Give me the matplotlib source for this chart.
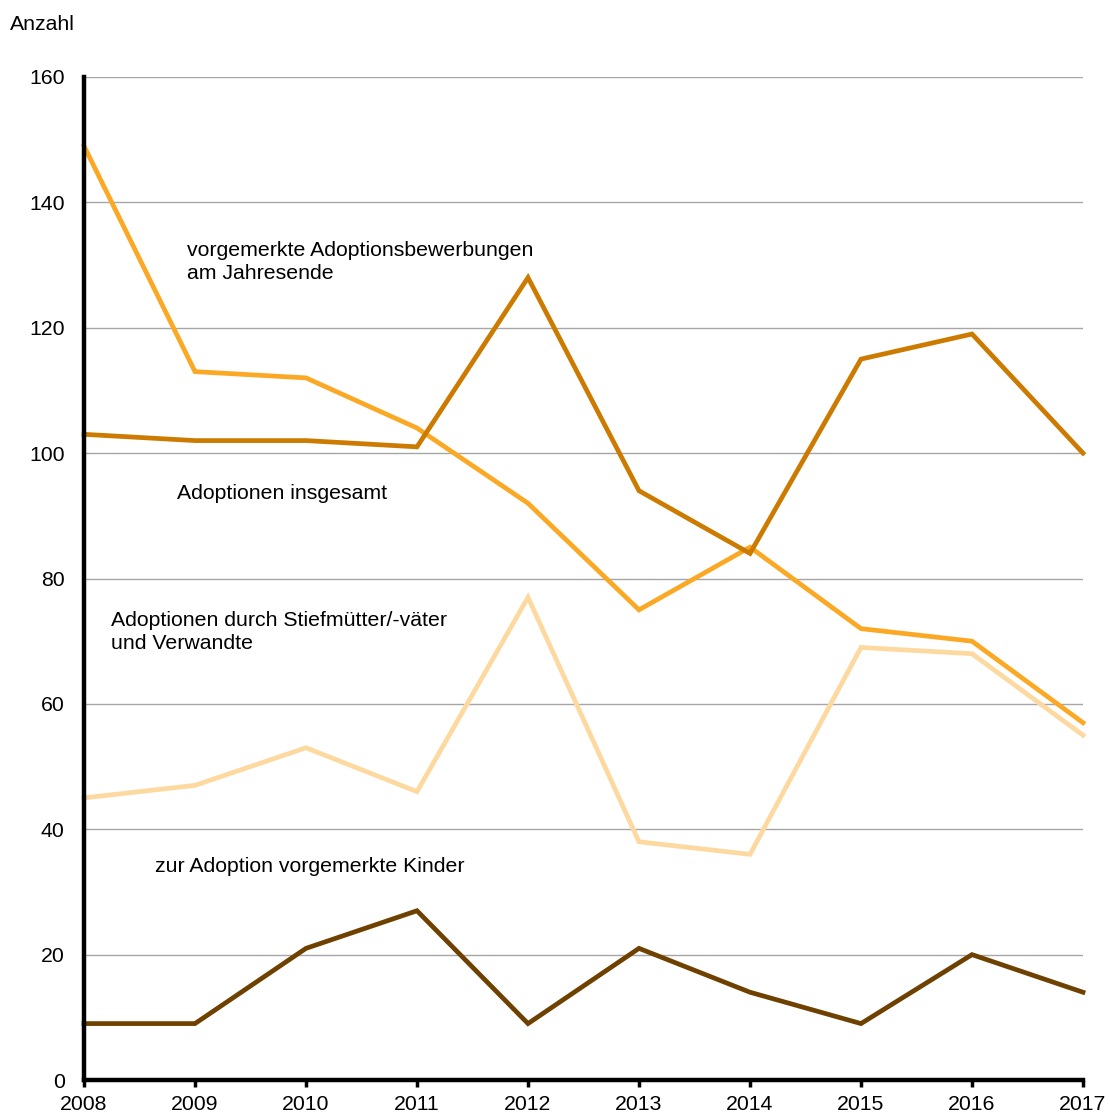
import matplotlib
matplotlib.use("Agg")
import matplotlib.pyplot as plt

plt.rcParams['font.family'] = ['Liberation Sans', 'DejaVu Sans']

years = [2008, 2009, 2010, 2011, 2012, 2013, 2014, 2015, 2016, 2017]
bewerbungen = [149, 113, 112, 104, 92, 75, 85, 72, 70, 57]
insgesamt = [103, 102, 102, 101, 128, 94, 84, 115, 119, 100]
stief = [45, 47, 53, 46, 77, 38, 36, 69, 68, 55]
kinder = [9, 9, 21, 27, 9, 21, 14, 9, 20, 14]
yticks = [0, 20, 40, 60, 80, 100, 120, 140, 160]

fig = plt.figure(figsize=(11.1, 11.15), dpi=100)
ax = fig.add_axes([84/1110, 1-1080/1115, (1083-84)/1110, (1080-77)/1115])

ax.set_xlim(2008, 2017)
ax.set_ylim(0, 160)
ax.set_yticks(yticks)
ax.set_xticks(years)
ax.grid(axis='y', color='#a6a6a6', linewidth=1.0)
ax.set_axisbelow(True)

lw = 3.4
ax.plot(years, stief, color='#fdd9a0', linewidth=lw, solid_joinstyle='miter', clip_on=False)
ax.plot(years, bewerbungen, color='#fba825', linewidth=lw, solid_joinstyle='miter', clip_on=False)
ax.plot(years, insgesamt, color='#cc7a00', linewidth=lw, solid_joinstyle='miter', clip_on=False)
ax.plot(years, kinder, color='#6e4100', linewidth=lw, solid_joinstyle='miter', clip_on=False)

for s in ['top', 'right']:
    ax.spines[s].set_visible(False)
for s in ['left', 'bottom']:
    ax.spines[s].set_linewidth(3.2)
    ax.spines[s].set_color('black')
    ax.spines[s].set_zorder(5)

fs = 15.3
ax.tick_params(axis='y', length=0, labelsize=fs, pad=14)
ax.tick_params(axis='x', length=5, width=2.5, direction='out', labelsize=fs, pad=6)

ax.text(2008.93, 130.5, 'vorgemerkte Adoptionsbewerbungen\nam Jahresende', fontsize=fs, va='center', ha='left', linespacing=1.3)
ax.text(2008.84, 93.5, 'Adoptionen insgesamt', fontsize=fs, va='center', ha='left')
ax.text(2008.24, 71.5, 'Adoptionen durch Stiefmütter/-väter\nund Verwandte', fontsize=fs, va='center', ha='left', linespacing=1.3)
ax.text(2008.64, 34.1, 'zur Adoption vorgemerkte Kinder', fontsize=fs, va='center', ha='left')

fig.text(10/1110, 1-25/1115, 'Anzahl', fontsize=fs, va='center', ha='left')

fig.savefig('out.png', dpi=100)
